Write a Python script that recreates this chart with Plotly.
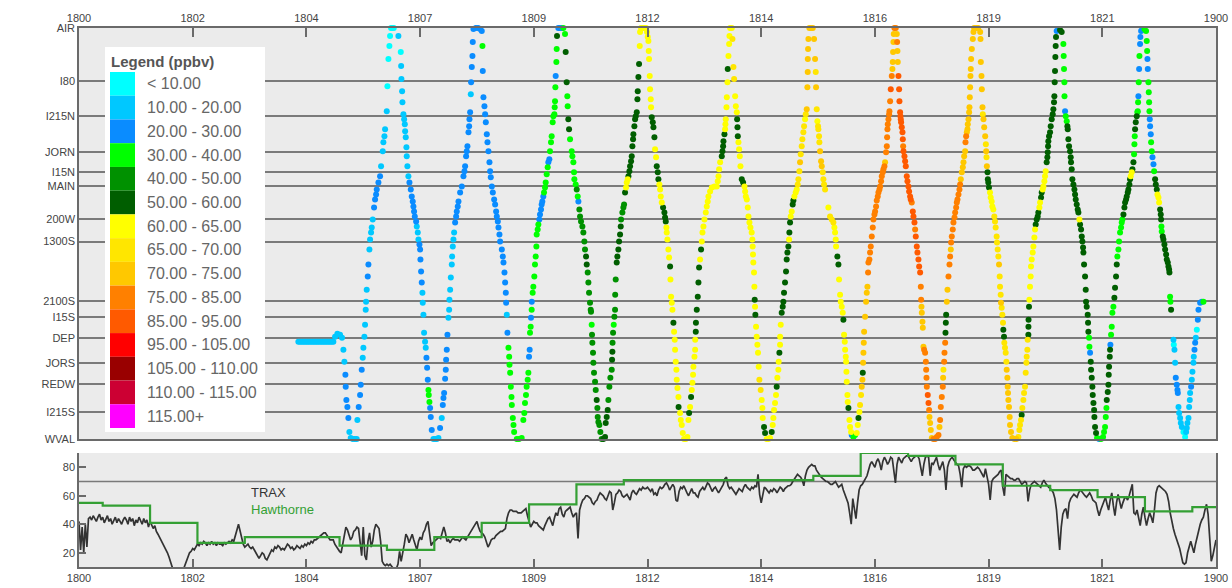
import plotly.graph_objects as go

# ---------------- data ----------------
tick_hours = [0, 2.4, 4.8, 7.2, 9.6, 12, 14.4, 16.8, 19.2, 21.6, 24]
tick_labels = ["1800", "1802", "1804", "1807", "1809", "1812", "1814",
               "1816", "1819", "1821", "1900"]

stations = ["AIR", "I80", "I215N", "JORN", "I15N", "MAIN", "200W", "1300S",
            "2100S", "I15S", "DEP", "JORS", "REDW", "I215S", "WVAL"]
station_pos = [0, 53, 88, 124, 144, 158, 191, 213, 272, 288, 309, 334, 355, 383, 410]

bin_labels = ["< 10.00", "10.00 - 20.00", "20.00 - 30.00", "30.00 - 40.00",
              "40.00 - 50.00", "50.00 - 60.00", "60.00 - 65.00", "65.00 - 70.00",
              "70.00 - 75.00", "75.00 - 85.00", "85.00 - 95.00", "95.00 - 105.00",
              "105.00 - 110.00", "110.00 - 115.00", "115.00+"]
bin_colors = ["#00FFFF", "#00C8FF", "#0A8CFF", "#00FF00", "#009100", "#005E00",
              "#FFFF00", "#FFE600", "#FFC800", "#FF8000", "#FF5A00", "#FF0000",
              "#990000", "#CC0033", "#FF00FF"]

# TRAX ozone (ppbv), one value every 2 minutes from 18 00
trax_ppbv = [
    42, 22, 38, 20, 40, 24, 44, 45, 43, 46, 44, 42, 45, 47, 43, 45, 41, 44, 46, 42, 44, 40, 43, 45, 41, 44, 42, 40, 43, 45,
    43, 40, 45, 42, 44, 39, 43, 41, 45, 42, 40, 44, 41, 43, 38, 42, 40, 37, 39, 35, 33, 31, 29, 27, 25, 22, 20, 17, 13, 10,
    8, 6, 5, 6, 7, 5, 8, 11, 15, 17, 20, 21, 23, 22, 24, 26, 25, 27, 26, 28, 27, 25, 27, 26, 28, 26, 27, 25, 27, 26,
    26, 25, 27, 26, 27, 28, 27, 29, 28, 33, 36, 40, 35, 29, 26, 24, 25, 26, 24, 23, 24, 22, 20, 18, 16, 18, 20, 19, 16, 15,
    17, 20, 22, 21, 24, 23, 25, 24, 22, 23, 22, 24, 26, 25, 23, 24, 22, 23, 25, 24, 23, 25, 24, 26, 25, 27, 26, 28, 27, 29,
    29, 30, 31, 32, 33, 34, 34, 32, 30, 29, 29, 29, 26, 24, 22, 21, 20, 26, 34, 38, 36, 33, 29, 31, 35, 36, 38, 37, 27, 18,
    38, 18, 15, 28, 34, 24, 28, 36, 40, 38, 37, 28, 14, 12, 11, 12, 11, 12, 10, 9, 8, 9, 12, 21, 14, 19, 26, 33, 31, 27,
    30, 33, 29, 25, 22, 28, 31, 29, 34, 36, 40, 42, 31, 25, 27, 28, 29, 30, 31, 30, 35, 38, 34, 28, 29, 27, 29, 30, 29, 29,
    29, 28, 30, 31, 30, 29, 31, 33, 35, 37, 38, 41, 42, 38, 35, 34, 33, 31, 28, 24, 26, 29, 30, 30, 32, 33, 34, 35, 35, 36,
    37, 44, 48, 50, 50, 49, 49, 49, 48, 48, 48, 49, 50, 51, 46, 41, 38, 40, 42, 41, 41, 39, 38, 37, 36, 39, 42, 44, 45, 42,
    39, 44, 48, 46, 51, 52, 47, 45, 49, 50, 51, 52, 48, 45, 47, 48, 30, 50, 54, 57, 58, 60, 60, 59, 58, 55, 54, 56, 57, 60,
    62, 61, 60, 58, 57, 60, 63, 62, 50, 55, 61, 62, 64, 63, 60, 59, 60, 61, 59, 57, 62, 64, 62, 61, 63, 65, 64, 66, 65, 65,
    66, 64, 63, 65, 61, 62, 60, 64, 66, 65, 66, 68, 69, 67, 64, 66, 68, 66, 57, 56, 63, 66, 65, 67, 64, 62, 60, 63, 65, 62,
    62, 60, 59, 63, 65, 66, 64, 67, 69, 68, 66, 63, 65, 66, 64, 62, 64, 66, 68, 72, 73, 67, 65, 66, 64, 62, 61, 63, 65, 64,
    63, 66, 68, 66, 65, 64, 66, 65, 67, 66, 75, 61, 55, 62, 66, 65, 63, 62, 64, 63, 65, 64, 62, 64, 66, 65, 63, 65, 66, 67,
    67, 68, 70, 72, 73, 75, 74, 73, 71, 67, 74, 78, 80, 81, 82, 81, 81, 78, 76, 74, 73, 72, 71, 70, 70, 69, 68, 68, 69, 70,
    68, 66, 67, 68, 64, 61, 58, 55, 48, 40, 58, 52, 44, 55, 64, 67, 68, 70, 72, 74, 78, 82, 84, 82, 80, 84, 86, 83, 78, 84,
    87, 85, 82, 84, 87, 86, 76, 69, 82, 87, 85, 83, 86, 87, 88, 88, 86, 84, 86, 87, 88, 88, 86, 80, 74, 82, 87, 88, 87, 74,
    83, 82, 85, 87, 82, 78, 81, 84, 78, 64, 80, 84, 86, 87, 85, 83, 82, 81, 75, 66, 79, 81, 80, 81, 81, 80, 78, 78, 79, 80,
    79, 77, 75, 73, 79, 74, 68, 57, 70, 72, 73, 74, 75, 77, 78, 66, 60, 75, 74, 73, 72, 72, 71, 71, 72, 72, 70, 68, 69, 70,
    69, 56, 64, 68, 69, 70, 69, 68, 67, 66, 69, 71, 69, 67, 66, 65, 64, 62, 58, 50, 38, 22, 38, 47, 50, 51, 44, 55, 58, 60,
    61, 60, 59, 62, 64, 63, 61, 60, 59, 61, 62, 60, 57, 56, 55, 50, 46, 50, 53, 57, 59, 54, 50, 57, 62, 53, 46, 55, 61, 56,
    51, 55, 58, 59, 57, 60, 65, 68, 48, 47, 50, 44, 39, 47, 52, 45, 39, 44, 48, 45, 41, 50, 62, 66, 67, 66, 65, 64, 63, 61,
    56, 48, 42, 37, 33, 30, 26, 23, 18, 13, 12, 13, 20, 25, 28, 24, 20, 26, 31, 36, 40, 43, 45, 50, 54, 47, 32, 14, 18, 25,
    29,
]

# Hawthorne station hourly ozone (ppbv); each value starts at the listed hour
hawthorne_hours = [0, 0.5, 1.5, 2.5, 3.5, 4.5, 5.5, 6.5, 7.5, 8.5, 9.5, 10.5, 11.5,
                   12.5, 13.5, 14.5, 15.5, 16.5, 17.5, 18.5, 19.5, 20.5, 21.5, 22.5, 23.5]
hawthorne_ppbv = [55, 53, 41, 27, 31, 31, 25, 22, 31, 41, 54, 68, 71,
                  71, 71, 71, 74, 90, 88, 82, 67, 64, 59, 49, 52]

ozone_standard_ppbv = 70

# Train samples: time (hours after 18 00), route position (0 = AIR, 410 = WVAL), ozone bin
dot_hours = [
    4.630, 4.665, 4.701, 4.736, 4.771, 4.806, 4.841, 4.876, 4.912, 4.947, 4.982, 5.017, 5.052, 5.088, 5.123, 5.158, 5.193, 5.228, 5.264, 5.299, 5.334, 5.369, 5.405, 5.454, 5.510, 5.552, 5.581, 5.602, 5.623, 5.630, 5.644, 5.665, 5.686, 5.707, 5.735, 5.778, 5.820, 5.862,
    5.876, 5.904, 5.933, 5.947, 5.968, 5.989, 6.003, 6.024, 6.038, 6.052, 6.059, 6.073, 6.095, 6.109, 6.130, 6.144, 6.165, 6.179, 6.200, 6.228, 6.249, 6.271, 6.285, 6.320, 6.355, 6.376, 6.411, 6.425, 6.447, 6.461, 6.496, 6.510, 6.531, 6.552, 6.566, 6.587, 6.615, 6.644,
    6.742, 6.792, 6.800, 6.806, 6.820, 6.827, 6.848, 6.863, 6.877, 6.884, 6.897, 6.911, 6.918, 6.932, 6.953, 6.975, 7.003, 7.024, 7.045, 7.059, 7.073, 7.088, 7.116, 7.130, 7.151, 7.165, 7.186, 7.200, 7.207, 7.221, 7.235, 7.249, 7.256, 7.270, 7.284, 7.305, 7.319, 7.334, 7.348, 7.362, 7.376, 7.383, 7.397, 7.411, 7.425, 7.446, 7.481, 7.517, 7.552, 7.587,
    7.622, 7.657, 7.679, 7.693, 7.707, 7.728, 7.742, 7.749, 7.763, 7.777, 7.798, 7.813, 7.819, 7.834, 7.848, 7.869, 7.876, 7.890, 7.904, 7.918, 7.939, 7.960, 7.974, 7.995, 8.010, 8.045, 8.080, 8.115, 8.136, 8.150, 8.171, 8.185, 8.199, 8.221, 8.235, 8.242, 8.256, 8.270, 8.277, 8.291, 8.305, 8.312, 8.326, 8.376, 8.425, 8.467, 8.502,
    8.516, 8.523, 8.537, 8.558, 8.573, 8.587, 8.608, 8.622, 8.643, 8.664, 8.678, 8.692, 8.714, 8.735, 8.763, 8.784, 8.805, 8.819, 8.840, 8.854, 8.875, 8.889, 8.925, 8.946, 8.960, 8.981, 8.995, 9.009, 9.016, 9.030, 9.044, 9.065, 9.080, 9.087, 9.101, 9.115, 9.129, 9.136, 9.157, 9.171, 9.185, 9.241, 9.287, 9.344,
    9.379, 9.400, 9.414, 9.435, 9.449, 9.471, 9.485, 9.499, 9.513, 9.520, 9.534, 9.541, 9.555, 9.557, 9.576, 9.590, 9.611, 9.625, 9.640, 9.654, 9.661, 9.682, 9.696, 9.717, 9.731, 9.752, 9.766, 9.780, 9.801, 9.816, 9.837, 9.851, 9.872, 9.893, 9.907, 9.928, 9.942, 9.963, 9.977, 9.998, 10.013, 10.034, 10.041, 10.048, 10.055, 10.062, 10.076, 10.083, 10.090, 10.118, 10.153, 10.189, 10.224,
    10.259, 10.273, 10.294, 10.308, 10.315, 10.329, 10.344, 10.365, 10.400, 10.414, 10.435, 10.449, 10.456, 10.484, 10.506, 10.527, 10.541, 10.562, 10.576, 10.597, 10.625, 10.646, 10.667, 10.681, 10.703, 10.717, 10.738, 10.752, 10.766, 10.787, 10.801, 10.808, 10.822, 10.829, 10.836, 10.850, 10.857, 10.871, 10.893, 10.907, 10.928, 10.942, 10.949, 10.963, 10.984, 11.005, 11.033, 11.069,
    11.104, 11.118, 11.139, 11.160, 11.174, 11.195, 11.216, 11.245, 11.252, 11.259, 11.262, 11.273, 11.287, 11.301, 11.315, 11.318, 11.329, 11.350, 11.364, 11.385, 11.400, 11.421, 11.435, 11.442, 11.470, 11.491, 11.505, 11.526, 11.547, 11.562, 11.583, 11.597, 11.618, 11.632, 11.653, 11.667, 11.681, 11.695, 11.702, 11.723, 11.738, 11.752, 11.773, 11.787, 11.794, 11.808, 11.822, 11.836, 11.843, 11.864, 11.899, 11.935, 11.970,
    11.991, 12.005, 12.019, 12.026, 12.033, 12.047, 12.054, 12.068, 12.075, 12.089, 12.111, 12.125, 12.146, 12.160, 12.181, 12.195, 12.216, 12.230, 12.251, 12.266, 12.280, 12.301, 12.329, 12.357, 12.371, 12.385, 12.399, 12.406, 12.420, 12.441, 12.456, 12.477, 12.484, 12.498, 12.512, 12.526, 12.547, 12.561, 12.575, 12.582, 12.596, 12.610, 12.617, 12.632, 12.653, 12.656, 12.688, 12.702, 12.723, 12.744, 12.772, 12.807,
    12.843, 12.864, 12.878, 12.899, 12.920, 12.934, 12.948, 12.962, 12.969, 12.991, 13.005, 13.007, 13.019, 13.022, 13.040, 13.061, 13.075, 13.089, 13.110, 13.131, 13.146, 13.160, 13.181, 13.202, 13.230, 13.251, 13.272, 13.286, 13.321, 13.357, 13.413, 13.462, 13.483, 13.498, 13.512, 13.533, 13.568, 13.582, 13.596, 13.603, 13.624, 13.638, 13.645, 13.652, 13.667, 13.674, 13.688, 13.694, 13.709, 13.723, 13.730, 13.744, 13.779,
    13.793, 13.814, 13.828, 13.850, 13.864, 13.885, 13.892, 13.899, 13.906, 13.920, 13.934, 13.948, 13.962, 13.990, 14.018, 14.047, 14.061, 14.075, 14.096, 14.117, 14.131, 14.152, 14.173, 14.199, 14.213, 14.220, 14.227, 14.234, 14.248, 14.256, 14.263, 14.270, 14.277, 14.291, 14.305, 14.319, 14.333, 14.347, 14.361, 14.389, 14.410, 14.425, 14.432, 14.460, 14.481, 14.516, 14.551, 14.586,
    14.622, 14.643, 14.657, 14.671, 14.692, 14.713, 14.727, 14.741, 14.762, 14.769, 14.784, 14.798, 14.800, 14.812, 14.833, 14.854, 14.868, 14.882, 14.903, 14.924, 14.938, 14.953, 14.974, 14.988, 14.995, 15.009, 15.023, 15.044, 15.065, 15.079, 15.100, 15.128, 15.150, 15.171, 15.185, 15.206, 15.220, 15.234, 15.255, 15.269, 15.290, 15.305, 15.326, 15.340, 15.361, 15.375, 15.382, 15.384, 15.389, 15.396, 15.417, 15.453, 15.488,
    15.516, 15.537, 15.551, 15.558, 15.572, 15.586, 15.600, 15.607, 15.621, 15.628, 15.642, 15.664, 15.678, 15.699, 15.713, 15.727, 15.748, 15.818, 15.854, 15.889, 15.924, 15.945, 15.959, 15.973, 15.980, 16.008, 16.030, 16.044, 16.065, 16.079, 16.100, 16.121, 16.135, 16.149, 16.164, 16.171, 16.185, 16.192, 16.199, 16.206, 16.220, 16.227, 16.241, 16.262, 16.276, 16.297, 16.311, 16.346, 16.382,
    16.417, 16.438, 16.453, 16.473, 16.487, 16.508, 16.522, 16.537, 16.544, 16.551, 16.558, 16.565, 16.572, 16.593, 16.614, 16.628, 16.642, 16.656, 16.663, 16.684, 16.698, 16.713, 16.734, 16.755, 16.769, 16.790, 16.804, 16.825, 16.839, 16.860, 16.875, 16.896, 16.910, 16.931, 16.945, 16.966, 16.980, 17.001, 17.015, 17.036, 17.051, 17.058, 17.065, 17.072, 17.086, 17.100, 17.107, 17.121, 17.135, 17.156, 17.170, 17.177, 17.184, 17.191, 17.198, 17.212, 17.240,
    17.262, 17.269, 17.276, 17.283, 17.297, 17.311, 17.318, 17.332, 17.339, 17.346, 17.353, 17.367, 17.382, 17.389, 17.396, 17.403, 17.424, 17.438, 17.452, 17.473, 17.487, 17.508, 17.522, 17.543, 17.557, 17.578, 17.600, 17.614, 17.635, 17.649, 17.663, 17.684, 17.698, 17.719, 17.734, 17.755, 17.769, 17.776, 17.783, 17.790, 17.804, 17.811, 17.825, 17.839, 17.860, 17.875, 17.882, 17.889, 17.896, 17.916, 17.931, 17.945, 17.952, 17.966, 17.980, 18.001, 18.036, 18.071, 18.106,
    18.142, 18.163, 18.177, 18.191, 18.212, 18.233, 18.240, 18.247, 18.262, 18.269, 18.283, 18.290, 18.297, 18.304, 18.318, 18.332, 18.353, 18.374, 18.388, 18.402, 18.409, 18.423, 18.444, 18.458, 18.480, 18.494, 18.515, 18.529, 18.543, 18.564, 18.585, 18.599, 18.613, 18.635, 18.656, 18.670, 18.684, 18.705, 18.712, 18.726, 18.740, 18.754, 18.761, 18.775, 18.789, 18.796, 18.803, 18.810, 18.817, 18.824, 18.831, 18.846, 18.867, 18.881, 18.895, 18.937, 18.980, 19.022,
    19.029, 19.036, 19.050, 19.057, 19.071, 19.078, 19.092, 19.107, 19.128, 19.142, 19.149, 19.156, 19.163, 19.177, 19.184, 19.194, 19.208, 19.230, 19.244, 19.265, 19.279, 19.300, 19.321, 19.335, 19.349, 19.370, 19.377, 19.392, 19.406, 19.420, 19.434, 19.441, 19.455, 19.462, 19.476, 19.490, 19.504, 19.511, 19.525, 19.532, 19.546, 19.561, 19.575, 19.582, 19.596, 19.603, 19.610, 19.617, 19.631, 19.645, 19.652, 19.673, 19.701, 19.744, 19.786, 19.828,
    19.849, 19.863, 19.884, 19.898, 19.912, 19.934, 19.948, 19.969, 19.983, 19.997, 20.004, 20.018, 20.025, 20.039, 20.041, 20.043, 20.053, 20.060, 20.074, 20.088, 20.095, 20.110, 20.131, 20.145, 20.166, 20.180, 20.194, 20.215, 20.236, 20.250, 20.272, 20.286, 20.307, 20.321, 20.342, 20.356, 20.377, 20.391, 20.405, 20.426, 20.440, 20.448, 20.455, 20.461, 20.476, 20.497, 20.511, 20.532, 20.553, 20.567, 20.581, 20.588, 20.595, 20.602, 20.609, 20.616, 20.623, 20.637, 20.673, 20.708, 20.743,
    20.778, 20.785, 20.792, 20.800, 20.802, 20.814, 20.828, 20.849, 20.863, 20.870, 20.884, 20.898, 20.919, 20.933, 20.940, 20.954, 20.968, 20.990, 21.011, 21.025, 21.039, 21.060, 21.081, 21.095, 21.116, 21.131, 21.152, 21.166, 21.180, 21.194, 21.201, 21.215, 21.236, 21.250, 21.257, 21.271, 21.292, 21.299, 21.306, 21.320, 21.328, 21.342, 21.356, 21.363, 21.377, 21.391, 21.398, 21.413, 21.427, 21.433, 21.447, 21.468, 21.489, 21.532, 21.574, 21.616,
    21.637, 21.658, 21.673, 21.687, 21.694, 21.715, 21.729, 21.736, 21.743, 21.757, 21.764, 21.771, 21.785, 21.799, 21.813, 21.834, 21.855, 21.869, 21.890, 21.905, 21.918, 21.940, 21.954, 21.975, 21.996, 22.010, 22.024, 22.046, 22.067, 22.081, 22.102, 22.116, 22.137, 22.151, 22.172, 22.186, 22.200, 22.221, 22.236, 22.257, 22.271, 22.278, 22.285, 22.292, 22.306, 22.327, 22.341, 22.348, 22.355, 22.362, 22.369, 22.377, 22.384, 22.397, 22.404, 22.419, 22.447, 22.489, 22.524,
    22.538, 22.546, 22.553, 22.560, 22.574, 22.581, 22.588, 22.595, 22.602, 22.609, 22.623, 22.630, 22.644, 22.659, 22.680, 22.694, 22.715, 22.729, 22.750, 22.764, 22.785, 22.799, 22.820, 22.834, 22.841, 22.848, 22.855, 22.876, 22.890, 22.911, 22.926, 22.947, 22.961, 22.982, 22.996, 23.010, 23.017, 23.031, 23.038, 23.052,
    23.102, 23.109, 23.123, 23.137, 23.151, 23.172, 23.186, 23.194, 23.208, 23.222, 23.243, 23.257, 23.278, 23.313, 23.348, 23.369, 23.383, 23.397, 23.419, 23.433, 23.447, 23.454, 23.475, 23.489, 23.503, 23.524, 23.531, 23.546, 23.560, 23.574, 23.595, 23.616, 23.630, 23.665, 23.700, 23.735,
]
dot_pos = [
    313, 313, 313, 313, 313, 313, 313, 313, 313, 313, 313, 313, 313, 313, 313, 313, 313, 313, 313, 313, 313, 313, 308, 305, 306, 309, 321, 333, 346, 358, 371, 378, 389, 403, 409, 410, 410, 410,
    391, 378, 366, 356, 341, 329, 319, 308, 296, 281, 273, 261, 248, 236, 221, 211, 204, 199, 191, 179, 171, 166, 161, 154, 148, 138, 123, 114, 108, 101, 83, 58, 31, 18, 8, 0, 0, 0,
    8, 24, 38, 51, 63, 74, 86, 91, 96, 103, 109, 119, 128, 138, 148, 154, 161, 168, 173, 178, 183, 188, 193, 198, 204, 211, 216, 221, 231, 243, 254, 264, 274, 286, 304, 313, 319, 329, 339, 351, 361, 366, 373, 379, 388, 401, 410, 410, 410, 409,
    399, 389, 376, 369, 364, 350, 341, 331, 321, 306, 289, 281, 271, 261, 249, 236, 228, 218, 211, 204, 194, 188, 183, 178, 173, 164, 158, 148, 143, 138, 128, 123, 118, 104, 98, 91, 84, 66, 54, 39, 28, 14, 1, 0, 0, 1, 3,
    18, 43, 69, 78, 86, 94, 106, 114, 123, 134, 143, 149, 158, 164, 171, 176, 183, 188, 193, 199, 206, 213, 221, 228, 234, 244, 254, 264, 274, 286, 304, 319, 328, 336, 344, 358, 368, 376, 389, 396, 403, 410, 410, 409,
    391, 384, 374, 366, 358, 351, 344, 328, 321, 304, 298, 289, 281, 273, 264, 258, 248, 236, 228, 218, 206, 201, 196, 191, 186, 181, 176, 173, 168, 164, 159, 154, 146, 139, 134, 131, 123, 114, 108, 94, 88, 86, 79, 73, 59, 48, 34, 21, 8, 0, 0, 0, 0,
    6, 24, 54, 68, 78, 91, 101, 111, 123, 128, 134, 144, 151, 156, 161, 168, 173, 181, 188, 193, 198, 204, 213, 221, 228, 236, 244, 254, 264, 274, 281, 283, 296, 306, 314, 324, 334, 344, 353, 361, 371, 379, 388, 393, 396, 403, 410, 410,
    408, 394, 388, 381, 371, 358, 349, 341, 331, 323, 314, 304, 296, 288, 281, 266, 251, 234, 228, 221, 213, 206, 198, 191, 184, 179, 176, 164, 159, 154, 151, 148, 143, 138, 133, 128, 118, 111, 106, 98, 91, 88, 84, 71, 63, 49, 36, 18, 4, 0, 0, 0, 0,
    4, 9, 13, 23, 31, 48, 61, 71, 79, 89, 94, 99, 109, 121, 129, 138, 144, 151, 156, 161, 168, 174, 179, 184, 189, 193, 199, 204, 211, 221, 229, 238, 251, 268, 274, 281, 294, 303, 311, 321, 333, 341, 351, 359, 368, 378, 384, 391, 396, 404, 410, 410,
    408, 391, 384, 378, 368, 361, 354, 346, 338, 328, 321, 311, 303, 294, 281, 268, 254, 239, 231, 221, 213, 204, 198, 191, 184, 178, 173, 168, 163, 159, 158, 158, 153, 148, 141, 134, 128, 123, 118, 113, 106, 101, 96, 91, 79, 69, 54, 41, 28, 16, 8, 0, 0,
    11, 39, 51, 68, 78, 84, 91, 99, 108, 114, 121, 128, 138, 151, 154, 158, 163, 168, 171, 179, 188, 194, 199, 204, 211, 218, 226, 234, 244, 258, 271, 278, 286, 298, 308, 316, 324, 338, 351, 361, 371, 379, 389, 398, 404, 410, 410, 409,
    403, 396, 389, 381, 374, 366, 358, 349, 341, 333, 324, 316, 308, 296, 284, 278, 273, 264, 254, 243, 231, 224, 218, 211, 204, 194, 188, 183, 176, 172, 168, 164, 161, 156, 151, 143, 134, 126, 118, 111, 104, 98, 91, 86, 81, 59, 44, 31, 21, 11, 0, 0, 0,
    11, 31, 44, 59, 81, 93, 98, 101, 108, 114, 123, 133, 138, 144, 151, 156, 161, 179, 188, 191, 194, 199, 204, 211, 218, 228, 236, 251, 266, 273, 278, 284, 291, 306, 313, 321, 328, 333, 343, 353, 366, 373, 379, 391, 398, 403, 406, 408, 406,
    404, 396, 389, 383, 376, 366, 358, 351, 344, 334, 324, 314, 303, 288, 273, 264, 258, 244, 234, 231, 224, 218, 208, 199, 191, 186, 183, 178, 172, 168, 164, 161, 158, 153, 148, 144, 141, 138, 134, 124, 118, 109, 101, 96, 91, 86, 83, 73, 61, 48, 41, 34, 24, 14, 6, 0, 0,
    6, 14, 23, 34, 48, 61, 73, 84, 88, 91, 94, 99, 104, 111, 118, 123, 128, 133, 138, 148, 153, 158, 163, 168, 171, 174, 183, 188, 194, 201, 208, 218, 224, 231, 238, 244, 258, 271, 278, 284, 293, 299, 318, 321, 324, 333, 341, 349, 358, 366, 374, 381, 388, 394, 401, 409, 410, 410, 408,
    406, 398, 391, 378, 368, 358, 349, 341, 333, 324, 314, 304, 294, 286, 273, 261, 248, 236, 228, 221, 214, 208, 201, 194, 189, 184, 179, 174, 171, 166, 161, 156, 151, 144, 139, 134, 128, 123, 114, 108, 104, 101, 96, 91, 84, 79, 69, 59, 48, 41, 31, 21, 11, 4, 0, 0, 0, 4,
    11, 34, 48, 61, 79, 86, 91, 99, 108, 116, 123, 129, 138, 144, 151, 154, 159, 164, 169, 173, 178, 181, 188, 193, 199, 208, 214, 221, 228, 236, 248, 258, 266, 274, 279, 286, 294, 301, 308, 314, 319, 324, 333, 341, 349, 358, 364, 371, 378, 388, 396, 403, 409, 410, 410, 408,
    401, 396, 391, 386, 379, 371, 364, 358, 344, 334, 328, 321, 311, 306, 298, 291, 278, 271, 258, 248, 238, 231, 224, 218, 209, 201, 196, 191, 188, 184, 179, 174, 169, 164, 161, 158, 153, 148, 143, 134, 129, 124, 118, 113, 108, 104, 98, 91, 86, 81, 74, 68, 54, 43, 29, 18, 9, 3, 1, 2, 4,
    16, 28, 41, 54, 68, 83, 88, 93, 98, 101, 111, 118, 123, 129, 134, 141, 151, 156, 161, 166, 171, 176, 181, 184, 191, 196, 201, 208, 213, 219, 224, 236, 248, 261, 273, 278, 286, 294, 303, 309, 318, 324, 333, 341, 349, 358, 366, 374, 381, 388, 398, 404, 409, 410, 410, 408,
    403, 398, 388, 379, 371, 363, 356, 346, 338, 328, 321, 316, 306, 298, 284, 278, 269, 259, 248, 236, 228, 221, 213, 204, 199, 194, 191, 186, 179, 174, 171, 168, 164, 161, 156, 151, 148, 144, 141, 134, 126, 116, 108, 101, 94, 88, 84, 83, 74, 68, 54, 41, 28, 16, 9, 3, 1, 1, 3,
    13, 23, 31, 41, 54, 64, 74, 83, 91, 98, 106, 114, 123, 129, 136, 143, 151, 156, 161, 166, 169, 174, 181, 186, 191, 198, 203, 208, 211, 216, 221, 226, 231, 234, 238, 241, 244, 268, 273, 281,
    311, 316, 321, 334, 349, 356, 361, 364, 378, 384, 389, 394, 398, 403, 408, 403, 399, 394, 389, 378, 371, 364, 358, 351, 343, 334, 328, 321, 314, 309, 301, 291, 281, 274, 273, 273,
]
dot_bin = [
    1, 1, 1, 1, 1, 1, 1, 1, 1, 1, 1, 1, 1, 1, 1, 1, 1, 1, 1, 1, 1, 1, 1, 1, 1, 1, 1, 1, 2, 2, 2, 2, 2, 1, 1, 1, 1, 1,
    1, 2, 2, 2, 2, 1, 1, 1, 1, 1, 1, 1, 2, 2, 1, 1, 1, 1, 1, 2, 2, 2, 2, 2, 2, 1, 1, 1, 1, 1, 1, 0, 0, 0, 0, 0, 0, 0,
    1, 0, 1, 1, 1, 1, 1, 1, 1, 1, 1, 1, 1, 1, 1, 2, 2, 2, 2, 2, 2, 2, 2, 1, 1, 1, 2, 2, 2, 2, 2, 1, 1, 1, 1, 1, 1, 2, 2, 2, 3, 3, 3, 2, 2, 2, 1, 1, 1, 1,
    2, 1, 2, 2, 2, 2, 2, 2, 2, 2, 1, 1, 1, 1, 1, 1, 1, 1, 1, 1, 2, 2, 2, 2, 2, 2, 2, 2, 2, 2, 2, 2, 2, 2, 2, 2, 2, 1, 2, 2, 2, 2, 2, 2, 2, 2, 2,
    3, 2, 2, 2, 2, 2, 2, 2, 2, 2, 2, 2, 2, 2, 2, 2, 2, 2, 2, 2, 2, 2, 2, 2, 2, 2, 2, 2, 2, 1, 2, 3, 3, 3, 3, 3, 3, 3, 3, 3, 3, 3, 3, 3,
    3, 3, 3, 3, 3, 3, 3, 2, 2, 3, 3, 2, 3, 2, 3, 3, 3, 3, 3, 3, 3, 3, 3, 2, 2, 2, 2, 2, 2, 3, 3, 3, 3, 3, 2, 2, 3, 3, 3, 3, 3, 3, 3, 3, 3, 2, 3, 3, 5, 2, 2, 2, 3,
    3, 5, 5, 3, 3, 5, 5, 3, 3, 3, 3, 3, 3, 3, 4, 3, 2, 4, 4, 4, 4, 4, 4, 4, 5, 5, 4, 4, 4, 4, 4, 4, 3, 4, 4, 4, 4, 4, 4, 4, 5, 4, 4, 4, 4, 4, 4, 5,
    5, 5, 5, 5, 4, 4, 4, 4, 5, 5, 4, 4, 3, 4, 4, 4, 4, 5, 5, 5, 5, 5, 5, 4, 4, 4, 4, 5, 6, 6, 6, 5, 5, 5, 5, 5, 5, 5, 5, 5, 5, 5, 5, 5, 5, 5, 5, 6, 6, 6, 6, 6, 6,
    6, 6, 6, 6, 6, 6, 6, 6, 6, 5, 5, 5, 5, 6, 6, 5, 5, 5, 6, 6, 6, 6, 5, 5, 5, 5, 6, 6, 6, 6, 6, 5, 6, 6, 6, 6, 5, 6, 6, 6, 6, 6, 6, 6, 6, 5, 6, 6, 6, 6, 6, 6,
    6, 6, 5, 6, 5, 6, 6, 6, 6, 6, 6, 6, 5, 5, 5, 5, 5, 5, 6, 5, 6, 6, 6, 6, 6, 6, 6, 6, 6, 6, 6, 6, 6, 6, 6, 6, 5, 5, 5, 5, 5, 6, 6, 6, 6, 6, 6, 5, 6, 6, 6, 6, 6,
    7, 7, 7, 6, 6, 6, 5, 5, 5, 6, 6, 6, 6, 5, 5, 6, 6, 6, 6, 6, 6, 6, 6, 6, 6, 6, 6, 6, 6, 6, 5, 6, 5, 6, 6, 6, 6, 6, 7, 7, 6, 6, 6, 5, 5, 6, 6, 6,
    5, 6, 6, 6, 6, 6, 5, 6, 6, 6, 5, 6, 6, 6, 5, 5, 5, 5, 5, 5, 5, 5, 5, 6, 5, 5, 6, 6, 5, 5, 6, 6, 6, 7, 7, 7, 8, 7, 7, 7, 7, 7, 6, 7, 8, 8, 8, 8, 8, 8, 8, 8, 8,
    8, 8, 7, 8, 7, 6, 7, 7, 7, 7, 8, 8, 8, 7, 7, 7, 7, 6, 7, 7, 7, 6, 6, 6, 6, 5, 5, 6, 6, 6, 6, 6, 5, 6, 6, 6, 6, 6, 6, 6, 6, 6, 5, 6, 6, 6, 2, 3, 3,
    6, 6, 5, 6, 7, 7, 8, 8, 5, 8, 8, 8, 8, 8, 8, 8, 8, 9, 9, 9, 9, 9, 9, 9, 9, 9, 9, 9, 9, 9, 9, 9, 9, 9, 9, 9, 9, 9, 8, 9, 9, 9, 9, 9, 9, 9, 9, 9, 10, 9, 8, 8, 8, 8, 8, 9, 9,
    8, 9, 8, 8, 10, 10, 10, 10, 10, 10, 10, 10, 10, 10, 9, 10, 10, 10, 10, 10, 10, 10, 10, 10, 10, 9, 10, 10, 10, 9, 10, 10, 10, 10, 10, 10, 9, 9, 8, 8, 8, 8, 8, 9, 9, 9, 9, 9, 9, 10, 10, 9, 8, 8, 8, 8, 9, 9, 9,
    9, 8, 9, 9, 9, 9, 8, 7, 9, 9, 9, 5, 5, 5, 8, 8, 9, 9, 9, 8, 9, 9, 9, 9, 9, 9, 9, 9, 9, 9, 9, 9, 8, 8, 8, 8, 8, 8, 9, 9, 8, 8, 8, 8, 8, 8, 8, 8, 8, 8, 8, 8, 8, 8, 8, 8, 8, 8,
    8, 8, 8, 8, 8, 7, 8, 8, 8, 7, 8, 7, 8, 5, 5, 5, 5, 6, 6, 6, 6, 6, 7, 7, 7, 7, 7, 7, 7, 8, 7, 7, 7, 8, 7, 7, 7, 5, 5, 7, 7, 7, 7, 8, 8, 8, 8, 8, 8, 8, 8, 8, 8, 8, 8, 7,
    7, 7, 7, 5, 7, 7, 7, 7, 7, 7, 7, 7, 7, 5, 5, 5, 5, 6, 6, 6, 6, 6, 6, 6, 6, 6, 5, 5, 5, 5, 6, 6, 5, 5, 6, 6, 6, 6, 6, 5, 5, 5, 5, 5, 5, 5, 5, 5, 5, 5, 5, 5, 5, 5, 5, 5, 5, 2, 2, 5, 5,
    3, 3, 3, 3, 3, 2, 3, 3, 5, 5, 5, 5, 5, 5, 5, 5, 5, 5, 5, 5, 5, 5, 5, 5, 6, 5, 5, 5, 5, 5, 5, 5, 5, 5, 5, 5, 5, 5, 5, 3, 3, 2, 5, 5, 5, 5, 5, 5, 5, 5, 5, 5, 3, 2, 3, 3,
    3, 3, 3, 3, 5, 5, 5, 5, 5, 5, 5, 2, 3, 3, 3, 3, 5, 5, 5, 5, 3, 3, 3, 3, 3, 3, 3, 5, 5, 5, 5, 5, 5, 5, 5, 5, 6, 6, 5, 5, 3, 3, 3, 5, 5, 5, 3, 3, 3, 2, 3, 2, 3, 2, 2, 2, 2, 3, 3,
    3, 3, 2, 2, 3, 3, 3, 3, 2, 2, 2, 3, 3, 2, 2, 3, 5, 5, 5, 6, 6, 6, 5, 5, 5, 3, 3, 5, 5, 5, 5, 5, 5, 5, 5, 5, 5, 3, 3, 5,
    1, 0, 1, 1, 2, 2, 2, 2, 1, 1, 1, 1, 1, 0, 0, 1, 1, 1, 1, 1, 1, 1, 2, 1, 1, 1, 1, 2, 2, 1, 0, 2, 2, 2, 2, 3,
]

# ---------------- layout constants (pixels) ----------------
W, H = 1232, 588
ML, MR, MT, MB = 79, 16, 28, 21
PW, PH = W - ML - MR, H - MT - MB
TOP_Y0, TOP_Y1 = 28, 439       # top panel pixel rows
BOT_Y0, BOT_Y1 = 453, 567      # bottom panel pixel rows


def px_x(px):
    return (px - ML) / PW


def px_y(py):
    return (H - MB - py) / PH


FONT = "Arial, Liberation Sans, sans-serif"
FRAME = "#6a6a6a"
GRID = "#7a7a7a"
PANEL_BG = "#ebebeb"

fig = go.Figure()

# ---------------- top panel: train position coloured by ozone ----------------
n = min(len(dot_hours), len(dot_pos), len(dot_bin))
for b, (lab, col) in enumerate(zip(bin_labels, bin_colors)):
    xs = [dot_hours[i] for i in range(n) if dot_bin[i] == b]
    ys = [dot_pos[i] for i in range(n) if dot_bin[i] == b]
    if not xs:
        continue
    fig.add_trace(go.Scatter(
        x=xs, y=ys, mode="markers", name=lab, showlegend=False,
        marker=dict(size=6, color=col, line=dict(width=0)),
        cliponaxis=False, xaxis="x", yaxis="y"))

# ---------------- bottom panel: TRAX vs Hawthorne ----------------
trax_hours = [i / 30 for i in range(len(trax_ppbv))]
fig.add_trace(go.Scatter(
    x=trax_hours, y=trax_ppbv, mode="lines", name="TRAX", showlegend=False,
    line=dict(color="#333333", width=1.7), xaxis="x2", yaxis="y2"))

fig.add_trace(go.Scatter(
    x=hawthorne_hours + [24], y=hawthorne_ppbv + [hawthorne_ppbv[-1]],
    mode="lines", line_shape="hv", name="Hawthorne", showlegend=False,
    line=dict(color="#34a034", width=2.2), xaxis="x2", yaxis="y2"))

fig.add_shape(type="line", xref="x2", yref="y2", x0=0, x1=24,
              y0=ozone_standard_ppbv, y1=ozone_standard_ppbv,
              line=dict(color=GRID, width=1.6), layer="below")

# ---------------- legend box ----------------
fig.add_shape(type="rect", xref="paper", yref="paper",
              x0=px_x(105), x1=px_x(265), y0=px_y(432), y1=px_y(47),
              fillcolor="white", line=dict(width=0), layer="above")
annotations = [dict(text="<b>Legend (ppbv)</b>", x=px_x(109), y=px_y(62),
                    xref="paper", yref="paper", xanchor="left", yanchor="middle",
                    showarrow=False, font=dict(family=FONT, size=15, color="#555555"))]
row_h = (428 - 72) / len(bin_labels)
for i, (lab, col) in enumerate(zip(bin_labels, bin_colors)):
    top = 72 + i * row_h
    fig.add_shape(type="rect", xref="paper", yref="paper",
                  x0=px_x(110), x1=px_x(135), y0=px_y(top + row_h), y1=px_y(top),
                  fillcolor=col, line=dict(width=0), layer="above")
    annotations.append(dict(text=lab, x=px_x(145), y=px_y(top + row_h / 2),
                            xref="paper", yref="paper", xanchor="left", yanchor="middle",
                            showarrow=False, font=dict(family=FONT, size=16, color="#666666")))

annotations.append(dict(text="TRAX", x=px_x(249), y=px_y(492), xref="paper", yref="paper",
                        xanchor="left", yanchor="middle", showarrow=False,
                        font=dict(family=FONT, size=13, color="#333333")))
annotations.append(dict(text="Hawthorne", x=px_x(249), y=px_y(509), xref="paper", yref="paper",
                        xanchor="left", yanchor="middle", showarrow=False,
                        font=dict(family=FONT, size=13, color="#34a034")))

top_dom = [px_y(TOP_Y1), px_y(TOP_Y0)]
bot_dom = [px_y(BOT_Y1), px_y(BOT_Y0)]
tickfont = dict(family=FONT, size=11, color="#444444")

fig.update_layout(
    width=W, height=H,
    margin=dict(l=ML, r=MR, t=MT, b=MB, autoexpand=False),
    paper_bgcolor="white", plot_bgcolor=PANEL_BG,
    showlegend=False, hovermode=False,
    font=dict(family=FONT),
    annotations=annotations,
    xaxis=dict(domain=[0, 1], anchor="y", range=[0, 24], side="top", automargin=False,
               tickvals=tick_hours, ticktext=tick_labels, ticks="inside", ticklen=9,
               tickwidth=1.5, tickcolor=FRAME, showgrid=False, zeroline=False,
               showline=True, linecolor=FRAME, linewidth=1.5, mirror=True,
               tickfont=tickfont),
    yaxis=dict(domain=top_dom, anchor="x", range=[410, 0], automargin=False,
               tickvals=station_pos, ticktext=stations, ticks="",
               showgrid=True, gridcolor=GRID, gridwidth=1.6, zeroline=False,
               showline=True, linecolor=FRAME, linewidth=1.5, mirror=True,
               tickfont=tickfont),
    xaxis2=dict(domain=[0, 1], anchor="y2", range=[0, 24], automargin=False,
                tickvals=tick_hours, ticktext=tick_labels, ticks="inside", ticklen=8,
                tickwidth=1.5, tickcolor=FRAME, showgrid=False, zeroline=False,
                showline=True, linecolor=FRAME, linewidth=1.5, mirror=False,
                tickfont=tickfont),
    yaxis2=dict(domain=bot_dom, anchor="x2", range=[10, 90], automargin=False,
                tickvals=[20, 40, 60, 80], ticks="inside", ticklen=7, tickwidth=1.5,
                tickcolor=FRAME, showgrid=False, zeroline=False,
                showline=True, linecolor=FRAME, linewidth=1.5, mirror=True,
                tickfont=tickfont),
)

# the page's default 8px body margin would shift the fixed-size figure
fig.write_html("out.html", config={"displayModeBar": False},
               post_script="document.body.style.margin='0px';")
